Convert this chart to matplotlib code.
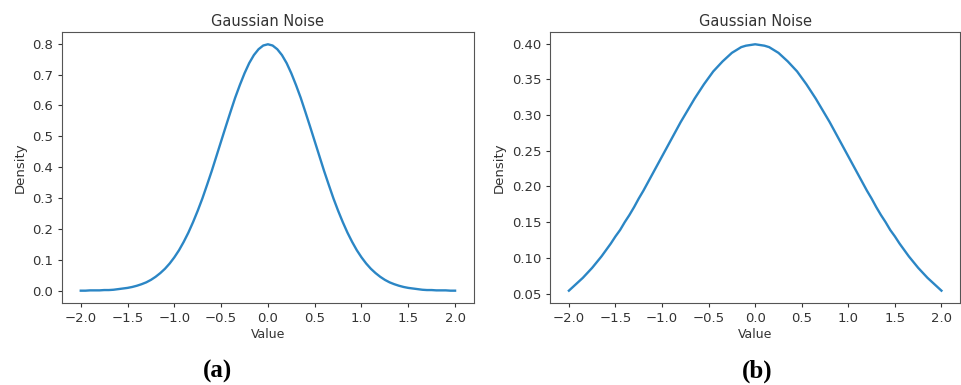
import numpy as np
import matplotlib
matplotlib.use("Agg")
import matplotlib.pyplot as plt
from matplotlib.ticker import FormatStrFormatter

# values, x from -2.0 to 2.0 in steps of 0.05
x_values = [round(-2.0 + 0.05 * i, 2) for i in range(81)]

# right half (x = 0.00 ... 2.00), curve is symmetric about 0
half_a = [0.798, 0.794, 0.782, 0.763, 0.737, 0.704, 0.666, 0.625, 0.579, 0.532,
          0.484, 0.436, 0.388, 0.343, 0.299, 0.259, 0.222, 0.188, 0.158, 0.131,
          0.108, 0.088, 0.071, 0.057, 0.045, 0.035, 0.027, 0.021, 0.016, 0.012,
          0.009, 0.007, 0.005, 0.003, 0.002, 0.002, 0.001, 0.001, 0.001, 0.000, 0.000]
density_a = half_a[::-1] + half_a[1:]

half_b = [0.399, 0.398, 0.397, 0.395, 0.391, 0.387, 0.381, 0.375, 0.368, 0.361,
          0.352, 0.343, 0.333, 0.323, 0.312, 0.301, 0.290, 0.278, 0.266, 0.254,
          0.242, 0.230, 0.218, 0.206, 0.194, 0.183, 0.171, 0.160, 0.150, 0.139,
          0.130, 0.120, 0.111, 0.102, 0.094, 0.086, 0.079, 0.072, 0.066, 0.060, 0.054]
density_b = half_b[::-1] + half_b[1:]

x_ticks = [-2.0, -1.5, -1.0, -0.5, 0.0, 0.5, 1.0, 1.5, 2.0]
captions = ["(a)", "(b)"]

LINE_COLOR = "#2b86c5"
TEXT_COLOR = "#333333"

fig = plt.figure(figsize=(9.62, 3.85), dpi=100)
ax_a = fig.add_axes([0.0645, 0.213, 0.428, 0.704])
ax_b = fig.add_axes([0.572, 0.213, 0.426, 0.704])

for ax, dens in [(ax_a, density_a), (ax_b, density_b)]:
  ax.plot(x_values, dens, color=LINE_COLOR, linewidth=1.7)
  ax.set_title("Gaussian Noise", fontsize=10.5, color=TEXT_COLOR, pad=4)
  ax.set_xlabel("Value", fontsize=9, color=TEXT_COLOR, labelpad=2)
  ax.set_ylabel("Density", fontsize=9.5, color=TEXT_COLOR, labelpad=4)
  ax.set_xticks(x_ticks)
  ax.tick_params(labelsize=9.5, colors=TEXT_COLOR, length=3)
  for sp in ax.spines.values():
    sp.set_color("#555555")

ax_a.set_yticks(np.arange(0, 0.81, 0.1))
ax_a.yaxis.set_major_formatter(FormatStrFormatter("%.1f"))
ax_b.set_yticks(np.arange(0.05, 0.401, 0.05))
ax_b.yaxis.set_major_formatter(FormatStrFormatter("%.2f"))

fig.text(218 / 962, 1 - 371 / 385, captions[0], ha="center", va="center",
         fontsize=18, fontweight="bold", family="Liberation Serif")
fig.text(757 / 962, 1 - 371 / 385, captions[1], ha="center", va="center",
         fontsize=18, fontweight="bold", family="Liberation Serif")

fig.savefig("out.png", dpi=100)
